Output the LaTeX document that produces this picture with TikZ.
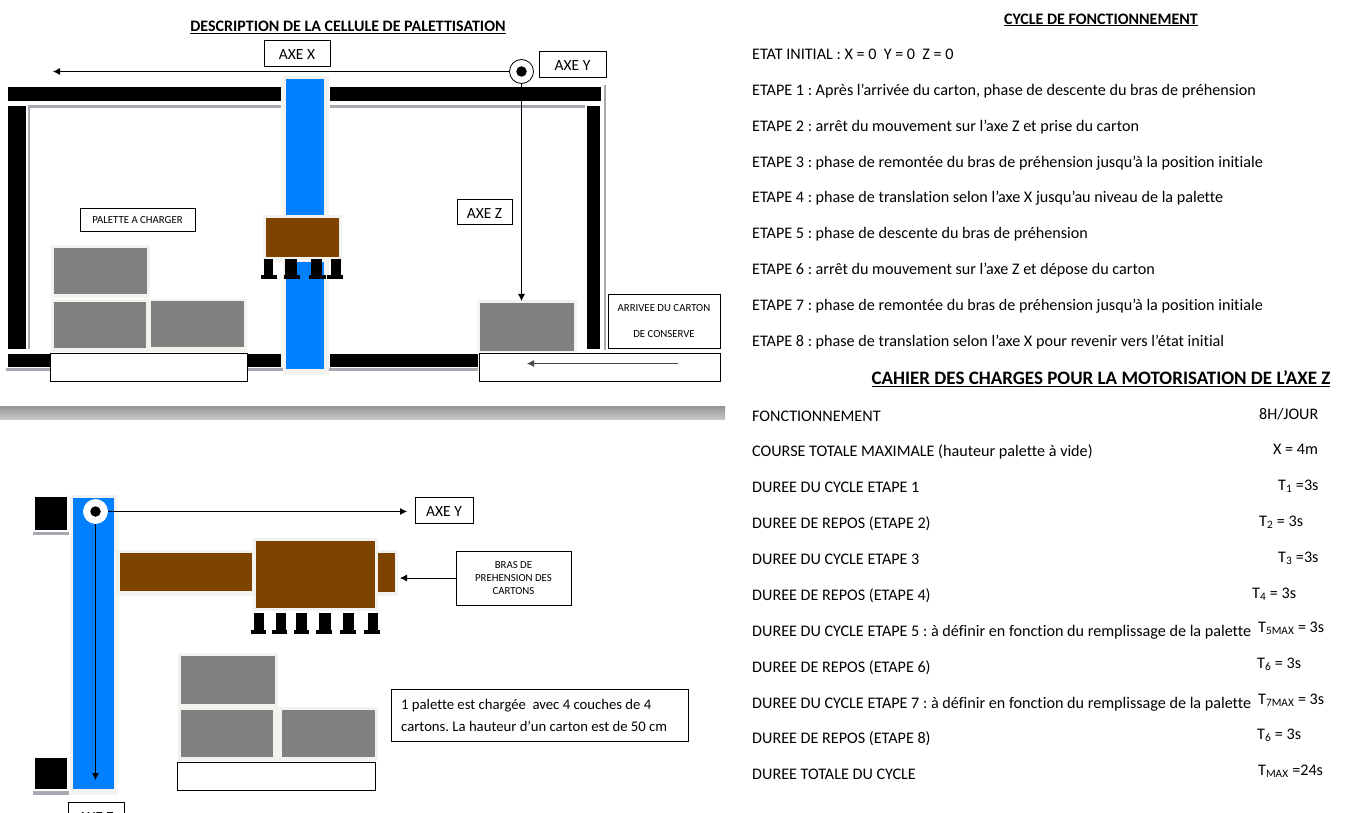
\documentclass[tikz,border=0pt]{standalone}
\usepackage{fontspec}
\usepackage{tikz}
\usetikzlibrary{arrows}
\usetikzlibrary{arrows.meta}
\setmainfont[Ligatures=CommonOff]{Carlito}
\definecolor{railblue}{HTML}{0080FF}
\definecolor{armbrown}{HTML}{7F4300}
\definecolor{cartongray}{HTML}{808080}
\definecolor{shadowgray}{HTML}{A8A8B0}
\definecolor{halocol}{HTML}{F4F2EE}
\tikzset{
    labelbox/.style={draw, fill=white, line width=0.7pt, inner sep=0pt, align=center, font=\fontsize{15.5}{18}\selectfont},
    axislabel/.style={labelbox, text height=12.5pt, text depth=0pt},
    smallbox/.style={labelbox, font=\fontsize{10.8}{13}\selectfont},
    textline/.style={anchor=base west, inner sep=0pt, font=\fontsize{16.15}{18}\selectfont},
    titleline/.style={inner sep=0pt, font=\fontsize{16}{18}\selectfont\bfseries},
    pivot/.style={draw, fill=white, circle, minimum size=24pt, inner sep=0pt, line width=0.8pt},
    pivotdot/.style={fill=black, circle, minimum size=10.5pt, inner sep=0pt},
    axisarrow/.style={-{Latex[length=7pt,width=7pt]}, line width=0.8pt},
    halo/.style={fill=halocol},
    shadowline/.style={fill=shadowgray}
}
\begin{document}
\frenchspacing
\begin{tikzpicture}[x=1pt,y=-1pt]
    \useasboundingbox (0,0) rectangle (1353,813);

    % Draw the upper cell
    \fill[shadowline] (28,105) rectangle (281,108);
    \fill[shadowline] (330,105) rectangle (585,108);
    \fill[shadowline] (28,105) rectangle (30,349);
    \fill[shadowline] (604,85) rectangle (606,350);
    \fill[shadowline] (6,368) rectangle (50,371);
    \fill[shadowline] (247,368) rectangle (478,371);
    \fill (8,87) rectangle (281,101);
    \fill (330,87) rectangle (601,101);
    \fill (8,106) rectangle (26,349);
    \fill (587,106) rectangle (600,349);
    \fill (8,354) rectangle (50,367);
    \fill (247,354) rectangle (281,367);
    \fill (330,354) rectangle (478,367);

    \fill[halo] (283,76) rectangle (329,375);
    \fill[railblue] (286,79) rectangle (324,369);
    \fill[halo] (263,215) rectangle (342,262);
    \fill[armbrown] (266,218) rectangle (339,257);

    \fill (264,259) rectangle (273,275);
    \fill (261,275) rectangle (277,279);
    \fill (285,259) rectangle (297,275);
    \fill (284,275) rectangle (300,279);
    \fill (311,259) rectangle (322,275);
    \fill (309,275) rectangle (326,279);
    \fill (331,259) rectangle (341,275);
    \fill (327,275) rectangle (343,279);

    \fill[halo] (51,245) rectangle (150,298);
    \fill[halo] (51,299) rectangle (149,352);
    \fill[halo] (149,299) rectangle (247,352);
    \fill[halo] (477,300) rectangle (577,352);
    \fill[cartongray] (54,248) rectangle (147,294);
    \fill[cartongray] (54,302) rectangle (146,348);
    \fill[cartongray] (151,301) rectangle (244,347);
    \fill[cartongray] (480,303) rectangle (574,351);

    \node[titleline] (celltitle) at (348,27) {\underline{DESCRIPTION DE LA CELLULE DE PALETTISATION}};
    \node[axislabel, minimum width=66pt, minimum height=26pt] (axex) at (297,53.5) {AXE X};
    \node[axislabel, minimum width=67pt, minimum height=26pt] (axey) at (572.5,64.5) {AXE Y};
    \node[axislabel, minimum width=55pt, minimum height=25pt] (axez) at (484.5,212) {AXE Z};
    \node[smallbox, minimum width=115pt, minimum height=23pt] (palettelabel) at (137.5,220) {PALETTE A CHARGER};
    \node[smallbox, minimum width=112pt, minimum height=54pt, font=\fontsize{10.8}{26}\selectfont] (arrivee) at (664,321) {ARRIVEE DU CARTON\\DE CONSERVE};
    \node[labelbox, minimum width=197pt, minimum height=28pt] (palette) at (148.5,367) {};
    \node[labelbox, minimum width=241pt, minimum height=28pt] (conveyor) at (599.5,367) {};

    \node[pivot] (pivottop) at (521.5,71.5) {};
    \node[pivotdot] (dottop) at (521.5,71.5) {};
    \coordinate (xend) at (53,71.5);
    \coordinate (zend) at (521.5,301);
    \coordinate (beltstart) at (678,363.5);
    \coordinate (beltend) at (527,363.5);
    \draw[axisarrow] (pivottop) -- (xend);
    \draw[axisarrow] (pivottop) -- (zend);
    \draw[axisarrow, draw=black!70] (beltstart) -- (beltend);

    % Draw the separating band
    \shade[top color=black!42, bottom color=black!22] (0,406) rectangle (725,419);

    % Draw the lower cell
    \fill[shadowline] (33,532) rectangle (69,535);
    \fill[shadowline] (33,791) rectangle (69,795);
    \fill (35,497) rectangle (67,530);
    \fill (35,758) rectangle (67,789);

    \fill[halo] (70,495) rectangle (117,795);
    \fill[railblue] (73,498) rectangle (114,789);
    \fill[halo] (117,550) rectangle (398,596);
    \fill[armbrown] (120,553) rectangle (252,591);
    \fill[armbrown] (378,553) rectangle (395,592);
    \fill[halo] (253,538) rectangle (378,611);
    \fill[armbrown] (256,541) rectangle (375,608);

    \fill (254,613) rectangle (264,630);
    \fill (251,630) rectangle (266,634);
    \fill (276,613) rectangle (286,630);
    \fill (272,630) rectangle (287,634);
    \fill (296,613) rectangle (307,630);
    \fill (294,630) rectangle (309,634);
    \fill (319,613) rectangle (331,630);
    \fill (316,630) rectangle (332,634);
    \fill (343,613) rectangle (354,630);
    \fill (340,630) rectangle (356,634);
    \fill (368,613) rectangle (378,630);
    \fill (364,630) rectangle (380,634);

    \fill[halo] (178,653) rectangle (278,707);
    \fill[halo] (178,707) rectangle (278,761);
    \fill[halo] (278,707) rectangle (378,761);
    \fill[cartongray] (181,656) rectangle (275,704);
    \fill[cartongray] (181,710) rectangle (273,757);
    \fill[cartongray] (282,710) rectangle (375,757);

    \node[labelbox, minimum width=198pt, minimum height=28pt] (palettelow) at (276,776) {};
    \node[axislabel, minimum width=58pt, minimum height=26pt] (axeylow) at (444,510) {AXE Y};
    \node[smallbox, minimum width=115pt, minimum height=54pt] (bras) at (513.5,578) {BRAS DE\\PREHENSION DES\\CARTONS};
    \node[labelbox, minimum width=297pt, minimum height=52pt] (notebox) at (539.5,715) {};
    \node[inner sep=0pt, anchor=west, align=left, font=\fontsize{14.7}{22}\selectfont] (notetext) at (401,715) {1 palette est chargée\ \ avec 4 couches de 4\\cartons. La hauteur d’un carton est de 50 cm};
    \node[axislabel, minimum width=56pt, minimum height=28pt] (axezlow) at (96,816) {AXE Z};

    \node[pivot, draw=white] (pivotlow) at (95.5,511.5) {};
    \node[pivotdot] (dotlow) at (95.5,511.5) {};
    \coordinate (yend) at (407,511.5);
    \coordinate (downend) at (95.5,780);
    \coordinate (brasend) at (400,578);
    \draw[axisarrow] (pivotlow) -- (yend);
    \draw[axisarrow] (pivotlow) -- (downend);
    \draw[axisarrow] (bras.west |- brasend) -- (brasend);

    % Draw the cycle text
    \node[titleline] (cycletitle) at (1101,20) {\underline{CYCLE DE FONCTIONNEMENT}};
    \node[textline] (etat) at (752,60) {ETAT INITIAL : X = 0\ \ Y = 0\ \ Z = 0};
    \node[textline] (etape1) at (752,96) {ETAPE 1 : Après l’arrivée du carton, phase de descente du bras de préhension};
    \node[textline] (etape2) at (752,132) {ETAPE 2 : arrêt du mouvement sur l’axe Z et prise du carton};
    \node[textline] (etape3) at (752,168) {ETAPE 3 : phase de remontée du bras de préhension jusqu’à la position initiale};
    \node[textline] (etape4) at (752,203) {ETAPE 4 : phase de translation selon l’axe X jusqu’au niveau de la palette};
    \node[textline] (etape5) at (752,239) {ETAPE 5 : phase de descente du bras de préhension};
    \node[textline] (etape6) at (752,275) {ETAPE 6 : arrêt du mouvement sur l’axe Z et dépose du carton};
    \node[textline] (etape7) at (752,311) {ETAPE 7 : phase de remontée du bras de préhension jusqu’à la position initiale};
    \node[textline] (etape8) at (752,346) {ETAPE 8 : phase de translation selon l’axe X pour revenir vers l’état initial};

    % Draw the specification table
    \node[titleline, font=\fontsize{19}{20}\selectfont\bfseries] (cahier) at (1101,379) {\underline{CAHIER DES CHARGES POUR LA MOTORISATION DE L’AXE Z}};
    \node[textline] (row1) at (752,421) {FONCTIONNEMENT};
    \node[textline] (row2) at (752,456) {COURSE TOTALE MAXIMALE (hauteur palette à vide)};
    \node[textline] (row3) at (752,492) {DUREE DU CYCLE ETAPE 1};
    \node[textline] (row4) at (752,528) {DUREE DE REPOS (ETAPE 2)};
    \node[textline] (row5) at (752,564) {DUREE DU CYCLE ETAPE 3};
    \node[textline] (row6) at (752,600) {DUREE DE REPOS (ETAPE 4)};
    \node[textline] (row7) at (752,636) {DUREE DU CYCLE ETAPE 5 : à définir en fonction du remplissage de la palette};
    \node[textline] (row8) at (752,672) {DUREE DE REPOS (ETAPE 6)};
    \node[textline] (row9) at (752,708) {DUREE DU CYCLE ETAPE 7 : à définir en fonction du remplissage de la palette};
    \node[textline] (row10) at (752,743) {DUREE DE REPOS (ETAPE 8)};
    \node[textline] (row11) at (752,779) {DUREE TOTALE DU CYCLE};

    \node[textline] (val1) at (1259,419) {8H/JOUR};
    \node[textline] (val2) at (1273,454) {X = 4m};
    \node[textline] (val3) at (1278,490) {T\textsubscript{1} =3s};
    \node[textline] (val4) at (1259,526) {T\textsubscript{2} = 3s};
    \node[textline] (val5) at (1278,562) {T\textsubscript{3} =3s};
    \node[textline] (val6) at (1252,598) {T\textsubscript{4} = 3s};
    \node[textline] (val7) at (1258,632) {T\textsubscript{5MAX} = 3s};
    \node[textline] (val8) at (1257,668) {T\textsubscript{6} = 3s};
    \node[textline] (val9) at (1258,704) {T\textsubscript{7MAX} = 3s};
    \node[textline] (val10) at (1257,739) {T\textsubscript{6} = 3s};
    \node[textline] (val11) at (1258,775) {T\textsubscript{MAX} =24s};
\end{tikzpicture}
\end{document}
